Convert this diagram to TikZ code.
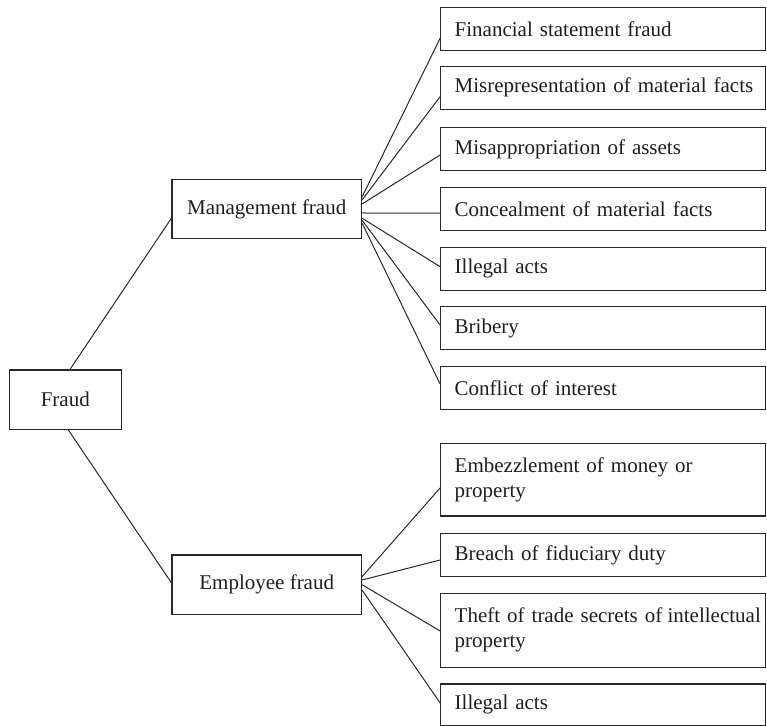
\documentclass[tikz,border=0pt]{standalone}
\usepackage{fontspec}
\setmainfont{Liberation Serif}
\definecolor{linec}{RGB}{40,40,40}
\definecolor{txtc}{RGB}{30,30,30}
\begin{document}
\begin{tikzpicture}[x=0.5pt,y=-0.5pt,
  basefont/.style={font=\fontsize{10.5}{12.5}\selectfont, text=txtc},
  midbox/.style={basefont, draw=linec, line width=0.6pt, inner sep=0pt,
    minimum width=94.75pt, minimum height=29.7pt},
  rootbox/.style={basefont, draw=linec, line width=0.6pt, inner sep=0pt,
    minimum width=56pt, minimum height=29.65pt},
  leaf/.style={basefont, draw=linec, line width=0.6pt, inner xsep=7pt, inner ysep=2pt,
    text width=148.4pt, align=left, minimum width=162.4pt, minimum height=#1,
    execute at begin node={\hfuzz=30pt}},
  leaf/.default=21.5pt,
  conn/.style={draw=linec, line width=0.5pt}]
\useasboundingbox (0,0) rectangle (767,726);

\node[rootbox] (fraud) at (65.3,399.7) {Fraud};
\node[midbox] (mg) at (266.7,209) {Management fraud};
\node[midbox] (em) at (266.7,584.7) {Employee fraud};

\node[leaf] (f1) at (603.1,28.8) {Financial statement fraud};
\node[leaf] (f2) at (603.1,87.8) {\mbox{Misrepresentation of material facts}};
\node[leaf] (f3) at (603.1,149.2) {Misappropriation of assets};
\node[leaf] (f4) at (603.1,209.2) {Concealment of material facts};
\node[leaf] (f5) at (603.1,268.7) {Illegal acts};
\node[leaf] (f6) at (603.1,328) {Bribery};
\node[leaf] (f7) at (603.1,388.3) {Conflict of interest};

\node[leaf=36.35pt] (e1) at (603.1,479.7) {\mbox{Embezzlement of money or}\\property};
\node[leaf] (e2) at (603.1,555) {Breach of fiduciary duty};
\node[leaf=37pt] (e3) at (603.1,630.3) {\mbox{Theft of trade secrets of\hspace{0.25em}intellectual}\\property};
\node[leaf=20.6pt] (e4) at (603.1,704.6) {Illegal acts};

\draw[conn] ([xshift=2.35pt]fraud.north) -- ([yshift=-4.65pt]mg.west);
\draw[conn] ([xshift=1.5pt]fraud.south) -- ([yshift=1pt]em.west);

\draw[conn] ([yshift=6pt]mg.east) -- ([yshift=-4.75pt]f1.west);
\draw[conn] ([yshift=4.5pt]mg.east) -- ([yshift=-4.45pt]f2.west);
\draw[conn] ([yshift=2.5pt]mg.east) -- ([yshift=-2.9pt]f3.west);
\draw[conn] ([yshift=-2pt]mg.east) -- ([yshift=-2pt]f4.west);
\draw[conn] ([yshift=-4.6pt]mg.east) -- ([yshift=1pt]f5.west);
\draw[conn] ([yshift=-5.6pt]mg.east) -- ([yshift=1.5pt]f6.west);
\draw[conn] ([yshift=-7pt]mg.east) -- ([yshift=2.15pt]f7.west);

\draw[conn] ([yshift=4pt]em.east) -- ([yshift=-4.15pt]e1.west);
\draw[conn] ([yshift=2.35pt]em.east) -- ([yshift=-2.5pt]e2.west);
\draw[conn] ([yshift=0pt]em.east) -- ([yshift=-0.35pt]e3.west);
\draw[conn] ([yshift=-2.65pt]em.east) -- ([yshift=0.85pt]e4.west);
\end{tikzpicture}
\end{document}
